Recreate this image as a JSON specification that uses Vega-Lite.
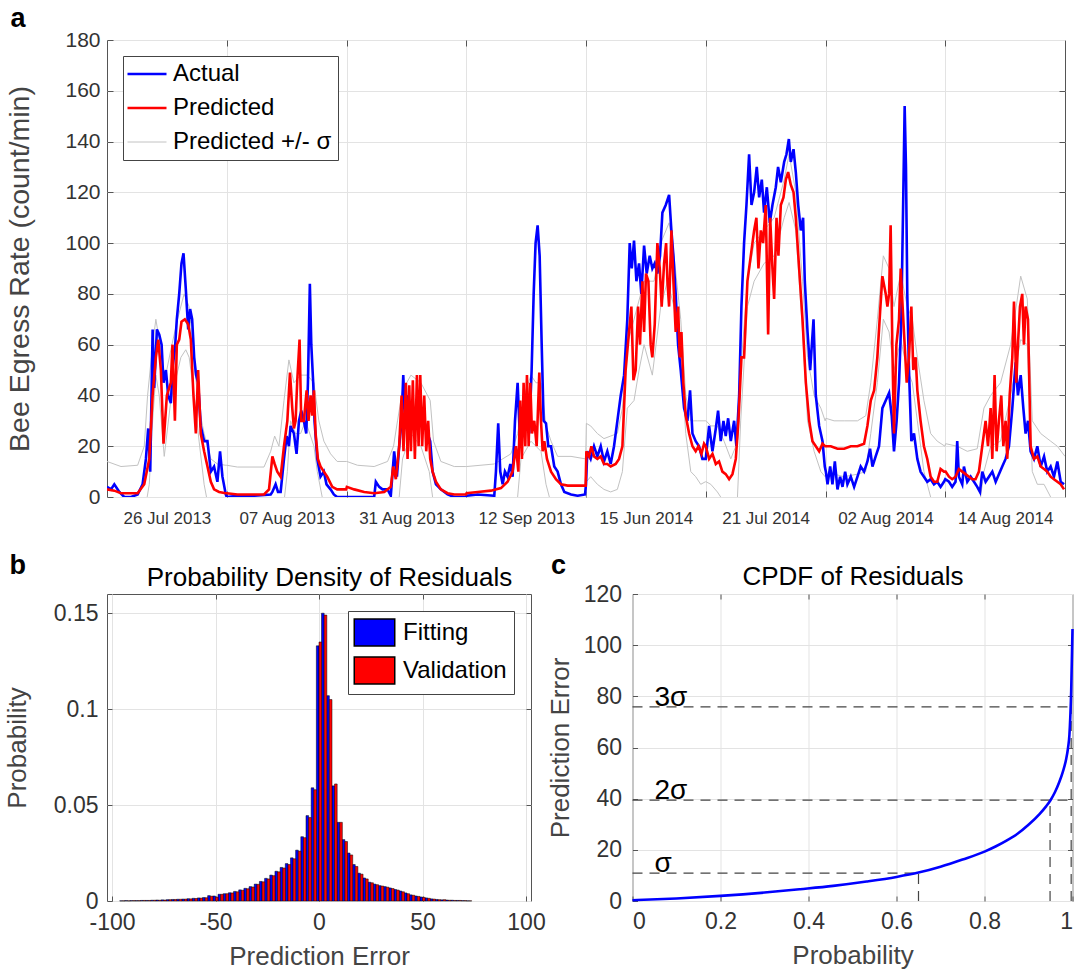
{
"$schema": "https://vega.github.io/schema/vega-lite/v6.json",
"background": "white",
"padding": {"left": 3, "top": 3, "right": 10, "bottom": 4},
"config": {
  "font": "Liberation Sans",
  "view": {"stroke": "#555", "strokeWidth": 1},
  "axis": {"labelFont": "Liberation Sans", "titleFont": "Liberation Sans", "labelColor": "#333", "titleColor": "#444", "gridColor": "#e3e3e3", "tickColor": "#555", "domain": false, "titleFontWeight": "normal"},
  "legend": {"labelFont": "Liberation Sans"}
},
"bounds": "flush",
"spacing": 97,
"resolve": {"scale": {"color": "independent"}, "legend": {"color": "independent"}},
"datasets": {
"actual": [{"x":0,"y":4},{"x":0.033,"y":3},{"x":0.061,"y":5},{"x":0.103,"y":2},{"x":0.144,"y":0},{"x":0.2,"y":0},{"x":0.256,"y":1},{"x":0.297,"y":5},{"x":0.325,"y":15},{"x":0.344,"y":27},{"x":0.361,"y":10},{"x":0.381,"y":66},{"x":0.394,"y":43},{"x":0.417,"y":66},{"x":0.436,"y":64},{"x":0.456,"y":60},{"x":0.472,"y":45},{"x":0.492,"y":50},{"x":0.511,"y":40},{"x":0.533,"y":37},{"x":0.55,"y":52},{"x":0.567,"y":58},{"x":0.583,"y":70},{"x":0.603,"y":80},{"x":0.622,"y":92},{"x":0.639,"y":96},{"x":0.658,"y":82},{"x":0.678,"y":66},{"x":0.694,"y":74},{"x":0.711,"y":70},{"x":0.728,"y":55},{"x":0.744,"y":48},{"x":0.761,"y":45},{"x":0.783,"y":28},{"x":0.811,"y":22},{"x":0.839,"y":22},{"x":0.867,"y":10},{"x":0.894,"y":12},{"x":0.922,"y":6},{"x":0.944,"y":18},{"x":0.964,"y":8},{"x":0.992,"y":1},
{"x":1.0,"y":0},{"x":1.089,"y":0.5},{"x":1.228,"y":0.5},{"x":1.367,"y":1},{"x":1.381,"y":2},{"x":1.408,"y":5},{"x":1.428,"y":2},{"x":1.45,"y":2},{"x":1.478,"y":15},{"x":1.5,"y":24},{"x":1.519,"y":20},{"x":1.533,"y":28},{"x":1.561,"y":25},{"x":1.583,"y":17},{"x":1.603,"y":30},{"x":1.622,"y":34},{"x":1.644,"y":30},{"x":1.664,"y":25},{"x":1.678,"y":45},{"x":1.694,"y":84},{"x":1.706,"y":60},{"x":1.722,"y":45},{"x":1.733,"y":30},{"x":1.756,"y":15},{"x":1.783,"y":8},{"x":1.811,"y":10},{"x":1.833,"y":5},{"x":1.867,"y":3},{"x":1.894,"y":1},{"x":1.922,"y":0},{"x":1.997,"y":0},
{"x":2.003,"y":0},{"x":2.12,"y":0},{"x":2.231,"y":0},{"x":2.245,"y":6},{"x":2.273,"y":4},{"x":2.301,"y":3},{"x":2.343,"y":3},{"x":2.37,"y":0.5},{"x":2.398,"y":18},{"x":2.421,"y":8},{"x":2.44,"y":20},{"x":2.46,"y":30},{"x":2.474,"y":48},{"x":2.49,"y":30},{"x":2.51,"y":40},{"x":2.538,"y":35},{"x":2.565,"y":30},{"x":2.593,"y":33},{"x":2.621,"y":35},{"x":2.649,"y":30},{"x":2.677,"y":25},{"x":2.699,"y":22},{"x":2.719,"y":10},{"x":2.747,"y":5},{"x":2.788,"y":3},{"x":2.844,"y":1},{"x":2.9,"y":0},{"x":2.997,"y":0},
{"x":3.003,"y":0.5},{"x":3.095,"y":1},{"x":3.234,"y":0.5},{"x":3.248,"y":10},{"x":3.267,"y":29},{"x":3.284,"y":10},{"x":3.304,"y":5},{"x":3.323,"y":10},{"x":3.345,"y":8},{"x":3.368,"y":13},{"x":3.387,"y":8},{"x":3.407,"y":30},{"x":3.429,"y":45},{"x":3.451,"y":20},{"x":3.471,"y":25},{"x":3.499,"y":30},{"x":3.526,"y":25},{"x":3.546,"y":50},{"x":3.563,"y":80},{"x":3.579,"y":100},{"x":3.596,"y":107},{"x":3.613,"y":95},{"x":3.63,"y":60},{"x":3.646,"y":30},{"x":3.666,"y":29},{"x":3.685,"y":20},{"x":3.708,"y":20},{"x":3.735,"y":12},{"x":3.763,"y":10},{"x":3.791,"y":5},{"x":3.819,"y":2},{"x":3.875,"y":1},{"x":3.93,"y":0.5},{"x":3.992,"y":1},
{"x":4.0,"y":5},{"x":4.011,"y":18},{"x":4.039,"y":15},{"x":4.067,"y":20},{"x":4.095,"y":16},{"x":4.123,"y":20},{"x":4.15,"y":14},{"x":4.178,"y":18},{"x":4.206,"y":13},{"x":4.234,"y":20},{"x":4.262,"y":30},{"x":4.29,"y":40},{"x":4.318,"y":48},{"x":4.345,"y":70},{"x":4.365,"y":100},{"x":4.382,"y":90},{"x":4.401,"y":101},{"x":4.421,"y":85},{"x":4.443,"y":92},{"x":4.462,"y":80},{"x":4.485,"y":99},{"x":4.507,"y":88},{"x":4.532,"y":95},{"x":4.554,"y":90},{"x":4.574,"y":92},{"x":4.596,"y":88},{"x":4.618,"y":95},{"x":4.638,"y":112},{"x":4.666,"y":115},{"x":4.694,"y":119},{"x":4.713,"y":105},{"x":4.73,"y":95},{"x":4.749,"y":80},{"x":4.769,"y":60},{"x":4.791,"y":50},{"x":4.819,"y":35},{"x":4.847,"y":30},{"x":4.869,"y":42},{"x":4.889,"y":25},{"x":4.916,"y":22},{"x":4.944,"y":20},{"x":4.972,"y":15},
{"x":5.0,"y":15},{"x":5.028,"y":28},{"x":5.056,"y":18},{"x":5.084,"y":27},{"x":5.103,"y":34},{"x":5.125,"y":22},{"x":5.148,"y":30},{"x":5.167,"y":24},{"x":5.187,"y":31},{"x":5.209,"y":22},{"x":5.237,"y":30},{"x":5.256,"y":20},{"x":5.279,"y":40},{"x":5.298,"y":75},{"x":5.32,"y":100},{"x":5.34,"y":115},{"x":5.362,"y":135},{"x":5.382,"y":115},{"x":5.404,"y":120},{"x":5.426,"y":130},{"x":5.446,"y":118},{"x":5.468,"y":125},{"x":5.487,"y":112},{"x":5.51,"y":122},{"x":5.535,"y":108},{"x":5.557,"y":115},{"x":5.585,"y":122},{"x":5.604,"y":130},{"x":5.627,"y":124},{"x":5.655,"y":132},{"x":5.674,"y":135},{"x":5.694,"y":141},{"x":5.71,"y":132},{"x":5.733,"y":137},{"x":5.752,"y":128},{"x":5.772,"y":115},{"x":5.794,"y":105},{"x":5.813,"y":110},{"x":5.827,"y":85},{"x":5.85,"y":65},{"x":5.872,"y":50},{"x":5.9,"y":70},{"x":5.919,"y":40},{"x":5.947,"y":28},{"x":5.975,"y":22},{"x":5.994,"y":12},
{"x":6.003,"y":10},{"x":6.017,"y":5},{"x":6.039,"y":12},{"x":6.058,"y":5},{"x":6.078,"y":14},{"x":6.1,"y":3},{"x":6.122,"y":8},{"x":6.142,"y":4},{"x":6.164,"y":10},{"x":6.183,"y":5},{"x":6.211,"y":8},{"x":6.239,"y":4},{"x":6.267,"y":8},{"x":6.294,"y":12},{"x":6.322,"y":10},{"x":6.35,"y":14},{"x":6.372,"y":19},{"x":6.392,"y":12},{"x":6.419,"y":16},{"x":6.447,"y":20},{"x":6.475,"y":35},{"x":6.503,"y":38},{"x":6.531,"y":41},{"x":6.553,"y":32},{"x":6.572,"y":18},{"x":6.594,"y":30},{"x":6.614,"y":45},{"x":6.633,"y":70},{"x":6.65,"y":120},{"x":6.661,"y":154},{"x":6.672,"y":130},{"x":6.683,"y":80},{"x":6.697,"y":50},{"x":6.717,"y":22},{"x":6.739,"y":25},{"x":6.767,"y":15},{"x":6.794,"y":10},{"x":6.822,"y":8},{"x":6.85,"y":6},{"x":6.878,"y":7},{"x":6.906,"y":5},{"x":6.933,"y":6},{"x":6.961,"y":4},{"x":6.989,"y":6},
{"x":7.0,"y":7},{"x":7.031,"y":6},{"x":7.058,"y":4},{"x":7.086,"y":6},{"x":7.1,"y":22},{"x":7.114,"y":8},{"x":7.142,"y":5},{"x":7.156,"y":12},{"x":7.184,"y":6},{"x":7.212,"y":8},{"x":7.24,"y":6},{"x":7.267,"y":4},{"x":7.29,"y":2},{"x":7.309,"y":10},{"x":7.337,"y":6},{"x":7.365,"y":8},{"x":7.393,"y":10},{"x":7.421,"y":6},{"x":7.448,"y":9},{"x":7.476,"y":12},{"x":7.504,"y":15},{"x":7.532,"y":20},{"x":7.56,"y":35},{"x":7.588,"y":53},{"x":7.607,"y":40},{"x":7.63,"y":48},{"x":7.652,"y":35},{"x":7.671,"y":25},{"x":7.691,"y":30},{"x":7.713,"y":18},{"x":7.741,"y":15},{"x":7.769,"y":20},{"x":7.797,"y":12},{"x":7.825,"y":16},{"x":7.852,"y":10},{"x":7.88,"y":12},{"x":7.908,"y":8},{"x":7.936,"y":14},{"x":7.964,"y":6},{"x":7.992,"y":5}],
"pred": [{"x":0,"y":3},{"x":0.061,"y":2.5},{"x":0.117,"y":1.5},{"x":0.256,"y":1.5},{"x":0.311,"y":5},{"x":0.353,"y":15},{"x":0.381,"y":40},{"x":0.408,"y":55},{"x":0.428,"y":62},{"x":0.45,"y":50},{"x":0.472,"y":21},{"x":0.5,"y":40},{"x":0.533,"y":45},{"x":0.547,"y":60},{"x":0.567,"y":30},{"x":0.583,"y":60},{"x":0.603,"y":62},{"x":0.622,"y":69},{"x":0.65,"y":70},{"x":0.678,"y":68},{"x":0.7,"y":62},{"x":0.722,"y":40},{"x":0.742,"y":25},{"x":0.761,"y":50},{"x":0.783,"y":25},{"x":0.811,"y":18},{"x":0.839,"y":12},{"x":0.867,"y":6},{"x":0.894,"y":3},{"x":0.936,"y":2},{"x":0.992,"y":1.5},
{"x":1.0,"y":1.5},{"x":1.089,"y":1},{"x":1.311,"y":1},{"x":1.353,"y":3},{"x":1.381,"y":16},{"x":1.4,"y":13},{"x":1.422,"y":10},{"x":1.45,"y":8},{"x":1.478,"y":20},{"x":1.506,"y":30},{"x":1.528,"y":49},{"x":1.547,"y":35},{"x":1.561,"y":27},{"x":1.575,"y":30},{"x":1.589,"y":46},{"x":1.608,"y":62},{"x":1.622,"y":30},{"x":1.644,"y":30},{"x":1.667,"y":42},{"x":1.683,"y":30},{"x":1.7,"y":40},{"x":1.714,"y":32},{"x":1.728,"y":42},{"x":1.742,"y":25},{"x":1.761,"y":15},{"x":1.783,"y":12},{"x":1.811,"y":10},{"x":1.839,"y":8},{"x":1.881,"y":4},{"x":1.922,"y":3},{"x":1.997,"y":3},
{"x":2.003,"y":4},{"x":2.064,"y":3},{"x":2.148,"y":2},{"x":2.231,"y":1.5},{"x":2.315,"y":2},{"x":2.37,"y":4},{"x":2.39,"y":12},{"x":2.412,"y":7},{"x":2.44,"y":20},{"x":2.46,"y":40},{"x":2.476,"y":18},{"x":2.496,"y":45},{"x":2.51,"y":15},{"x":2.524,"y":44},{"x":2.538,"y":18},{"x":2.554,"y":46},{"x":2.571,"y":15},{"x":2.588,"y":48},{"x":2.602,"y":20},{"x":2.616,"y":48},{"x":2.632,"y":20},{"x":2.649,"y":40},{"x":2.666,"y":18},{"x":2.682,"y":30},{"x":2.699,"y":15},{"x":2.719,"y":10},{"x":2.747,"y":6},{"x":2.788,"y":3},{"x":2.844,"y":1.5},{"x":2.9,"y":1},{"x":2.997,"y":1},
{"x":3.003,"y":1.5},{"x":3.095,"y":2},{"x":3.206,"y":2.5},{"x":3.29,"y":3.5},{"x":3.345,"y":6},{"x":3.387,"y":10},{"x":3.415,"y":20},{"x":3.435,"y":10},{"x":3.451,"y":38},{"x":3.465,"y":15},{"x":3.479,"y":45},{"x":3.493,"y":20},{"x":3.507,"y":48},{"x":3.521,"y":20},{"x":3.535,"y":45},{"x":3.549,"y":25},{"x":3.568,"y":30},{"x":3.588,"y":20},{"x":3.61,"y":49},{"x":3.624,"y":30},{"x":3.638,"y":18},{"x":3.652,"y":22},{"x":3.674,"y":15},{"x":3.708,"y":10},{"x":3.749,"y":7},{"x":3.791,"y":5},{"x":3.847,"y":4.5},{"x":3.93,"y":4.5},{"x":3.997,"y":4.5},
{"x":4.003,"y":18},{"x":4.025,"y":16},{"x":4.045,"y":20},{"x":4.067,"y":16},{"x":4.095,"y":15},{"x":4.123,"y":16},{"x":4.15,"y":13},{"x":4.178,"y":13},{"x":4.206,"y":12},{"x":4.248,"y":13},{"x":4.276,"y":15},{"x":4.304,"y":20},{"x":4.331,"y":50},{"x":4.359,"y":65},{"x":4.379,"y":75},{"x":4.396,"y":46},{"x":4.415,"y":50},{"x":4.435,"y":75},{"x":4.451,"y":60},{"x":4.471,"y":85},{"x":4.485,"y":65},{"x":4.501,"y":88},{"x":4.521,"y":85},{"x":4.54,"y":60},{"x":4.554,"y":55},{"x":4.574,"y":68},{"x":4.596,"y":100},{"x":4.616,"y":90},{"x":4.632,"y":75},{"x":4.652,"y":92},{"x":4.669,"y":100},{"x":4.68,"y":85},{"x":4.694,"y":75},{"x":4.713,"y":105},{"x":4.73,"y":85},{"x":4.749,"y":65},{"x":4.769,"y":75},{"x":4.783,"y":55},{"x":4.797,"y":65},{"x":4.813,"y":45},{"x":4.833,"y":32},{"x":4.861,"y":25},{"x":4.889,"y":20},{"x":4.916,"y":18},{"x":4.939,"y":20},{"x":4.964,"y":17},{"x":4.986,"y":21},
{"x":5.0,"y":20},{"x":5.028,"y":15},{"x":5.056,"y":17},{"x":5.084,"y":13},{"x":5.111,"y":14},{"x":5.139,"y":10},{"x":5.167,"y":9},{"x":5.195,"y":7},{"x":5.223,"y":9},{"x":5.251,"y":15},{"x":5.273,"y":30},{"x":5.298,"y":55},{"x":5.32,"y":55},{"x":5.348,"y":85},{"x":5.376,"y":95},{"x":5.404,"y":105},{"x":5.423,"y":110},{"x":5.44,"y":90},{"x":5.46,"y":105},{"x":5.479,"y":100},{"x":5.501,"y":115},{"x":5.521,"y":64},{"x":5.538,"y":110},{"x":5.557,"y":90},{"x":5.571,"y":78},{"x":5.591,"y":110},{"x":5.607,"y":95},{"x":5.627,"y":115},{"x":5.649,"y":118},{"x":5.669,"y":125},{"x":5.688,"y":128},{"x":5.71,"y":123},{"x":5.733,"y":120},{"x":5.752,"y":110},{"x":5.78,"y":90},{"x":5.808,"y":70},{"x":5.836,"y":45},{"x":5.864,"y":30},{"x":5.891,"y":22},{"x":5.919,"y":20},{"x":5.947,"y":18},{"x":5.975,"y":21},{"x":5.997,"y":20},
{"x":6.003,"y":20},{"x":6.044,"y":20},{"x":6.1,"y":19},{"x":6.156,"y":19},{"x":6.211,"y":20},{"x":6.267,"y":20},{"x":6.322,"y":21},{"x":6.35,"y":28},{"x":6.378,"y":38},{"x":6.406,"y":42},{"x":6.433,"y":55},{"x":6.456,"y":73},{"x":6.475,"y":87},{"x":6.503,"y":80},{"x":6.517,"y":75},{"x":6.531,"y":80},{"x":6.544,"y":107},{"x":6.558,"y":60},{"x":6.572,"y":25},{"x":6.592,"y":60},{"x":6.614,"y":70},{"x":6.628,"y":90},{"x":6.644,"y":75},{"x":6.661,"y":60},{"x":6.678,"y":45},{"x":6.697,"y":55},{"x":6.717,"y":75},{"x":6.733,"y":50},{"x":6.753,"y":55},{"x":6.767,"y":42},{"x":6.794,"y":30},{"x":6.822,"y":20},{"x":6.85,"y":15},{"x":6.878,"y":8},{"x":6.906,"y":6},{"x":6.933,"y":6},{"x":6.961,"y":11},{"x":6.989,"y":10},
{"x":7.003,"y":10},{"x":7.031,"y":8},{"x":7.058,"y":7},{"x":7.086,"y":8},{"x":7.114,"y":11},{"x":7.142,"y":10},{"x":7.17,"y":9},{"x":7.198,"y":8},{"x":7.226,"y":7},{"x":7.253,"y":7},{"x":7.281,"y":10},{"x":7.309,"y":20},{"x":7.337,"y":30},{"x":7.357,"y":20},{"x":7.379,"y":35},{"x":7.393,"y":15},{"x":7.412,"y":48},{"x":7.429,"y":18},{"x":7.448,"y":30},{"x":7.468,"y":40},{"x":7.485,"y":20},{"x":7.504,"y":30},{"x":7.518,"y":15},{"x":7.538,"y":40},{"x":7.56,"y":55},{"x":7.574,"y":77},{"x":7.593,"y":45},{"x":7.607,"y":60},{"x":7.624,"y":75},{"x":7.643,"y":80},{"x":7.657,"y":60},{"x":7.671,"y":75},{"x":7.691,"y":70},{"x":7.713,"y":20},{"x":7.741,"y":15},{"x":7.769,"y":16},{"x":7.797,"y":12},{"x":7.825,"y":11},{"x":7.852,"y":10},{"x":7.88,"y":8},{"x":7.908,"y":7},{"x":7.936,"y":6},{"x":7.964,"y":5},{"x":7.992,"y":3}],
"upper": [{"x":0,"y":14},{"x":0.117,"y":12},{"x":0.256,"y":12.5},{"x":0.311,"y":20},{"x":0.339,"y":40},{"x":0.381,"y":60},{"x":0.408,"y":70},{"x":0.436,"y":62},{"x":0.478,"y":45},{"x":0.533,"y":58},{"x":0.589,"y":70},{"x":0.644,"y":80},{"x":0.686,"y":75},{"x":0.728,"y":52},{"x":0.769,"y":35},{"x":0.811,"y":25},{"x":0.867,"y":15},{"x":0.922,"y":13},{"x":0.992,"y":12.5},
{"x":1.0,"y":12.5},{"x":1.089,"y":11.8},{"x":1.311,"y":11.8},{"x":1.367,"y":18},{"x":1.4,"y":24},{"x":1.436,"y":20},{"x":1.478,"y":38},{"x":1.519,"y":54},{"x":1.561,"y":45},{"x":1.617,"y":48},{"x":1.672,"y":48},{"x":1.728,"y":45},{"x":1.769,"y":30},{"x":1.811,"y":22},{"x":1.867,"y":17},{"x":1.922,"y":14},{"x":1.997,"y":14},
{"x":2.003,"y":14},{"x":2.092,"y":12.5},{"x":2.231,"y":12},{"x":2.343,"y":14},{"x":2.393,"y":20},{"x":2.426,"y":30},{"x":2.468,"y":42},{"x":2.538,"y":48},{"x":2.621,"y":45},{"x":2.699,"y":38},{"x":2.727,"y":22},{"x":2.788,"y":14},{"x":2.9,"y":12},{"x":2.997,"y":12},
{"x":3.003,"y":12},{"x":3.234,"y":13},{"x":3.373,"y":17},{"x":3.429,"y":25},{"x":3.485,"y":40},{"x":3.54,"y":48},{"x":3.582,"y":45},{"x":3.624,"y":45},{"x":3.666,"y":28},{"x":3.708,"y":22},{"x":3.763,"y":16},{"x":3.875,"y":16},{"x":3.997,"y":15},
{"x":4.003,"y":29},{"x":4.039,"y":28},{"x":4.095,"y":25},{"x":4.15,"y":23},{"x":4.206,"y":24},{"x":4.262,"y":25},{"x":4.304,"y":35},{"x":4.345,"y":60},{"x":4.401,"y":70},{"x":4.485,"y":85},{"x":4.568,"y":85},{"x":4.624,"y":100},{"x":4.694,"y":108},{"x":4.735,"y":95},{"x":4.791,"y":70},{"x":4.833,"y":40},{"x":4.875,"y":30},{"x":4.93,"y":30},{"x":4.997,"y":30},
{"x":5.003,"y":30},{"x":5.042,"y":28},{"x":5.097,"y":28},{"x":5.153,"y":22},{"x":5.209,"y":15},{"x":5.251,"y":20},{"x":5.292,"y":50},{"x":5.348,"y":85},{"x":5.404,"y":100},{"x":5.487,"y":105},{"x":5.571,"y":110},{"x":5.655,"y":125},{"x":5.696,"y":135},{"x":5.752,"y":120},{"x":5.808,"y":85},{"x":5.85,"y":55},{"x":5.905,"y":40},{"x":5.961,"y":35},{"x":5.997,"y":30},
{"x":6.003,"y":31},{"x":6.072,"y":30},{"x":6.156,"y":30},{"x":6.267,"y":30},{"x":6.336,"y":32},{"x":6.378,"y":45},{"x":6.433,"y":70},{"x":6.483,"y":95},{"x":6.531,"y":90},{"x":6.572,"y":75},{"x":6.628,"y":88},{"x":6.683,"y":75},{"x":6.725,"y":70},{"x":6.767,"y":55},{"x":6.822,"y":38},{"x":6.878,"y":25},{"x":6.933,"y":22},{"x":6.997,"y":20},
{"x":7.003,"y":21},{"x":7.1,"y":20},{"x":7.184,"y":18},{"x":7.267,"y":19},{"x":7.323,"y":35},{"x":7.379,"y":40},{"x":7.462,"y":45},{"x":7.546,"y":60},{"x":7.63,"y":87},{"x":7.685,"y":78},{"x":7.727,"y":30},{"x":7.797,"y":25},{"x":7.88,"y":22},{"x":7.936,"y":20},{"x":8.0,"y":16}],
"lower": [{"x":0,"y":-8},{"x":0.283,"y":-8},{"x":0.325,"y":-3},{"x":0.353,"y":5},{"x":0.381,"y":30},{"x":0.408,"y":48},{"x":0.436,"y":40},{"x":0.478,"y":16},{"x":0.533,"y":38},{"x":0.617,"y":55},{"x":0.658,"y":58},{"x":0.686,"y":55},{"x":0.728,"y":40},{"x":0.769,"y":22},{"x":0.811,"y":5},{"x":0.839,"y":-2},{"x":0.992,"y":-10},
{"x":1.0,"y":-10},{"x":1.45,"y":-8},{"x":1.478,"y":-2},{"x":1.506,"y":10},{"x":1.533,"y":30},{"x":1.575,"y":25},{"x":1.617,"y":25},{"x":1.658,"y":30},{"x":1.728,"y":20},{"x":1.756,"y":10},{"x":1.797,"y":0},{"x":1.839,"y":-8},{"x":1.997,"y":-10},
{"x":2.003,"y":-10},{"x":2.398,"y":-8},{"x":2.44,"y":0},{"x":2.468,"y":15},{"x":2.538,"y":25},{"x":2.621,"y":20},{"x":2.691,"y":10},{"x":2.719,"y":0},{"x":2.76,"y":-8},{"x":2.997,"y":-10},
{"x":3.003,"y":-10},{"x":3.401,"y":-5},{"x":3.429,"y":0},{"x":3.457,"y":15},{"x":3.54,"y":22},{"x":3.582,"y":20},{"x":3.624,"y":18},{"x":3.666,"y":5},{"x":3.694,"y":0},{"x":3.735,"y":-8},{"x":3.997,"y":-10},
{"x":4.003,"y":6},{"x":4.039,"y":8},{"x":4.095,"y":5},{"x":4.15,"y":3},{"x":4.206,"y":2},{"x":4.262,"y":3},{"x":4.304,"y":10},{"x":4.345,"y":35},{"x":4.401,"y":38},{"x":4.443,"y":50},{"x":4.485,"y":60},{"x":4.554,"y":48},{"x":4.624,"y":75},{"x":4.68,"y":85},{"x":4.735,"y":75},{"x":4.791,"y":55},{"x":4.833,"y":25},{"x":4.875,"y":10},{"x":4.916,"y":8},{"x":4.958,"y":5},{"x":4.997,"y":6},
{"x":5.003,"y":6},{"x":5.042,"y":5},{"x":5.097,"y":2},{"x":5.153,"y":-2},{"x":5.209,"y":-5},{"x":5.265,"y":0},{"x":5.292,"y":30},{"x":5.348,"y":75},{"x":5.404,"y":85},{"x":5.487,"y":92},{"x":5.571,"y":95},{"x":5.655,"y":110},{"x":5.696,"y":116},{"x":5.752,"y":105},{"x":5.808,"y":65},{"x":5.85,"y":30},{"x":5.905,"y":18},{"x":5.961,"y":10},{"x":5.997,"y":8},
{"x":6.003,"y":9},{"x":6.072,"y":9},{"x":6.156,"y":8},{"x":6.267,"y":9},{"x":6.336,"y":10},{"x":6.378,"y":25},{"x":6.433,"y":45},{"x":6.483,"y":70},{"x":6.531,"y":65},{"x":6.572,"y":50},{"x":6.628,"y":62},{"x":6.683,"y":50},{"x":6.725,"y":45},{"x":6.767,"y":30},{"x":6.822,"y":10},{"x":6.878,"y":0},{"x":6.933,"y":-5},{"x":6.997,"y":-5},
{"x":7.003,"y":-2},{"x":7.184,"y":-3},{"x":7.295,"y":0},{"x":7.323,"y":10},{"x":7.379,"y":20},{"x":7.462,"y":22},{"x":7.546,"y":40},{"x":7.63,"y":62},{"x":7.685,"y":60},{"x":7.727,"y":10},{"x":7.769,"y":5},{"x":7.825,"y":5},{"x":7.88,"y":0},{"x":7.936,"y":-5},{"x":8.0,"y":-8}],
"hist": [{"c":-95,"f":0.0001,"v":0.0001},{"c":-92.5,"f":0.0002,"v":0.0001},{"c":-90,"f":0.0002,"v":0.0002},{"c":-87.5,"f":0.0002,"v":0.0002},{"c":-85,"f":0.0003,"v":0.0003},{"c":-82.5,"f":0.0003,"v":0.0003},{"c":-80,"f":0.0004,"v":0.0004},{"c":-77.5,"f":0.0005,"v":0.0004},{"c":-75,"f":0.0006,"v":0.0005},{"c":-72.5,"f":0.0007,"v":0.0007},{"c":-70,"f":0.0008,"v":0.0008},{"c":-67.5,"f":0.0009,"v":0.0009},{"c":-65,"f":0.001,"v":0.001},{"c":-62.5,"f":0.0012,"v":0.0011},{"c":-60,"f":0.0014,"v":0.0013},{"c":-57.5,"f":0.0016,"v":0.0015},{"c":-55,"f":0.0018,"v":0.0017},{"c":-52.5,"f":0.0028,"v":0.0025},{"c":-50,"f":0.0026,"v":0.002},{"c":-47.5,"f":0.0035,"v":0.0035},{"c":-45,"f":0.0038,"v":0.0038},{"c":-42.5,"f":0.0043,"v":0.0042},{"c":-40,"f":0.005,"v":0.0048},{"c":-37.5,"f":0.0058,"v":0.0056},{"c":-35,"f":0.0066,"v":0.0064},{"c":-32.5,"f":0.0075,"v":0.0073},{"c":-30,"f":0.0088,"v":0.0087},{"c":-27.5,"f":0.0102,"v":0.01},{"c":-25,"f":0.0118,"v":0.0115},{"c":-22.5,"f":0.0135,"v":0.0132},{"c":-20,"f":0.0155,"v":0.0152},{"c":-17.5,"f":0.0175,"v":0.0172},{"c":-15,"f":0.0195,"v":0.019},{"c":-12.5,"f":0.0225,"v":0.022},{"c":-10,"f":0.0265,"v":0.026},{"c":-7.5,"f":0.0335,"v":0.033},{"c":-5,"f":0.0445,"v":0.0435},{"c":-2.5,"f":0.059,"v":0.058},{"c":0,"f":0.133,"v":0.135},{"c":2.5,"f":0.15,"v":0.149},{"c":5,"f":0.107,"v":0.105},{"c":7.5,"f":0.06,"v":0.061},{"c":10,"f":0.041,"v":0.041},{"c":12.5,"f":0.032,"v":0.031},{"c":15,"f":0.025,"v":0.024},{"c":17.5,"f":0.019,"v":0.018},{"c":20,"f":0.0145,"v":0.014},{"c":22.5,"f":0.012,"v":0.0115},{"c":25,"f":0.0098,"v":0.0095},{"c":27.5,"f":0.0088,"v":0.0085},{"c":30,"f":0.008,"v":0.0078},{"c":32.5,"f":0.0075,"v":0.0072},{"c":35,"f":0.0068,"v":0.0065},{"c":37.5,"f":0.006,"v":0.0057},{"c":40,"f":0.0052,"v":0.0048},{"c":42.5,"f":0.0042,"v":0.0038},{"c":45,"f":0.0032,"v":0.003},{"c":47.5,"f":0.0026,"v":0.0024},{"c":50,"f":0.0021,"v":0.0019},{"c":52.5,"f":0.0016,"v":0.0014},{"c":55,"f":0.0011,"v":0.001},{"c":57.5,"f":0.0008,"v":0.0007},{"c":60,"f":0.0006,"v":0.0007},{"c":62.5,"f":0.0005,"v":0.0004},{"c":65,"f":0.0004,"v":0.0003},{"c":67.5,"f":0.0003,"v":0.0003},{"c":70,"f":0.0002,"v":0.0002},{"c":72.5,"f":0.0001,"v":0.0001}],
"cdf": [{"p":0,"e":0.3},{"p":0.1,"e":1.0},{"p":0.2,"e":2.0},{"p":0.3,"e":3.3},{"p":0.381,"e":4.6},{"p":0.456,"e":5.9},{"p":0.532,"e":7.6},{"p":0.6,"e":9.4},{"p":0.65,"e":11.1},{"p":0.7,"e":13.4},{"p":0.75,"e":16.2},{"p":0.8,"e":19.3},{"p":0.825,"e":21.3},{"p":0.85,"e":23.6},{"p":0.875,"e":26.3},{"p":0.9,"e":29.8},{"p":0.925,"e":34},{"p":0.94,"e":37},{"p":0.95,"e":39.4},{"p":0.96,"e":42.5},{"p":0.97,"e":46.5},{"p":0.978,"e":50.5},{"p":0.985,"e":55},{"p":0.99,"e":60},{"p":0.993,"e":65},{"p":0.995,"e":72},{"p":0.997,"e":82},{"p":0.998,"e":90},{"p":0.999,"e":98},{"p":1.0,"e":106.3}],
"sig": [{"x1":0,"x2":0.65,"y1":10.9,"y2":10.9},{"x1":0.65,"x2":0.65,"y1":0,"y2":10.9},{"x1":0,"x2":1,"y1":39.4,"y2":39.4},{"x1":0.949,"x2":0.949,"y1":0,"y2":39.4},{"x1":0,"x2":1,"y1":75.9,"y2":75.9},{"x1":0.997,"x2":0.997,"y1":0,"y2":75.9}],
"siglab": [{"x":0.05,"y":10.9,"t":"σ"},{"x":0.05,"y":39.4,"t":"2σ"},{"x":0.05,"y":75.9,"t":"3σ"}]
},
"vconcat": [
{
  "width": 958, "height": 457,
  "resolve": {"axis": {"x": "independent", "y": "independent"}},
  "layer": [
    {"data": {"name": "upper"}, "mark": {"type": "line", "strokeWidth": 1, "clip": true},
     "encoding": {
       "x": {"field": "x", "type": "quantitative", "scale": {"domain": [0, 8], "nice": false, "zero": false},
             "axis": {"orient": "bottom", "values": [0.5,1,1.5,2,2.5,3,3.5,4,4.5,5,5.5,6,6.5,7,7.5],
                      "labelExpr": "datum.value % 1 == 0 ? '' : ['26 Jul 2013','07 Aug 2013','31 Aug 2013','12 Sep 2013','15 Jun 2014','21 Jul 2014','02 Aug 2014','14 Aug 2014'][floor(datum.value)]",
                      "labelFontSize": 17, "labelPadding": 19, "labelOverlap": false, "labelBound": false, "labelFlush": false,
                      "tickSize": -6, "tickOpacity": {"condition": {"test": "datum.value % 1 == 0", "value": 1}, "value": 0},
                      "grid": true, "gridOpacity": {"condition": {"test": "datum.value % 1 == 0", "value": 1}, "value": 0},
                      "title": null}},
       "y": {"field": "y", "type": "quantitative", "scale": {"domain": [0, 180], "nice": false},
             "axis": {"values": [0,20,40,60,80,100,120,140,160,180], "labelFontSize": 21, "labelPadding": 13, "tickSize": -6, "grid": true,
                      "title": "Bee Egress Rate (count/min)", "titleFontSize": 28.5, "titlePadding": 30}},
       "color": {"datum": "Predicted +/- σ",
                 "scale": {"domain": ["Actual", "Predicted", "Predicted +/- σ"], "range": ["#0000ff", "#ff0000", "#c2c2c2"]},
                 "legend": {"orient": "top-left", "offset": 16, "title": null, "symbolType": "stroke", "symbolSize": 1521, "symbolStrokeWidth": 2.6,
                            "symbolOffset": 6, "labelFontSize": 24, "labelColor": "#000", "labelOffset": 14, "rowPadding": 10, "padding": 6,
                            "strokeColor": "#444", "fillColor": "white", "labelLimit": 400,
                            "encode": {"symbols": {"update": {"strokeWidth": {"signal": "datum.value === 'Predicted +/- σ' ? 1 : 2.6"}}}}}}
     }},
    {"data": {"name": "lower"}, "mark": {"type": "line", "strokeWidth": 1, "clip": true},
     "encoding": {"x": {"field": "x", "type": "quantitative", "axis": null}, "y": {"field": "y", "type": "quantitative", "axis": null}, "color": {"datum": "Predicted +/- σ"}}},
    {"data": {"name": "actual"}, "mark": {"type": "line", "strokeWidth": 2.6, "clip": true},
     "encoding": {"x": {"field": "x", "type": "quantitative", "axis": null}, "y": {"field": "y", "type": "quantitative", "axis": null}, "color": {"datum": "Actual"}}},
    {"data": {"name": "pred"}, "mark": {"type": "line", "strokeWidth": 2.6, "clip": true},
     "encoding": {"x": {"field": "x", "type": "quantitative", "axis": null}, "y": {"field": "y", "type": "quantitative", "axis": null}, "color": {"datum": "Predicted"}}},
    {"data": {"values": [{}]}, "mark": {"type": "point", "opacity": 0},
     "encoding": {
       "x": {"datum": 0, "type": "quantitative", "axis": {"orient": "top", "values": [1,2,3,4,5,6,7], "labels": false, "grid": false, "domain": false, "tickSize": -6,
              "title": "a", "titleX": -97, "titleY": -14, "titleAlign": "left", "titleBaseline": "alphabetic", "titleAngle": 0, "titleFontSize": 27, "titleFontWeight": "bold", "titleColor": "#000"}},
       "y": {"datum": 0, "type": "quantitative", "axis": {"orient": "right", "values": [20,40,60,80,100,120,140,160], "labels": false, "grid": false, "domain": false, "tickSize": -6, "title": null}}
     }}
  ]
},
{
  "hconcat": [
    {
      "width": 424, "height": 307,
      "resolve": {"axis": {"x": "independent", "y": "independent"}},
      "layer": [
        {"data": {"name": "hist"}, "mark": {"type": "bar", "size": 2.65, "xOffset": -1.33, "stroke": "#000", "strokeWidth": 0.5},
         "encoding": {
           "x": {"field": "c", "type": "quantitative", "scale": {"domain": [-100, 100], "nice": false, "zero": false},
                 "axis": {"values": [-100,-50,0,50,100], "labelExpr": "'' + datum.value", "labelFontSize": 23, "labelPadding": 15, "tickSize": -5, "grid": true,
                          "title": "Prediction Error", "titleFontSize": 26, "titlePadding": 9}},
           "y": {"field": "f", "type": "quantitative", "scale": {"domain": [0, 0.16], "nice": false},
                 "axis": {"values": [0,0.05,0.1,0.15], "labelExpr": "'' + datum.value", "labelFontSize": 23, "labelPadding": 14, "tickSize": -5, "grid": true,
                          "title": "Probability", "titleFontSize": 26, "titlePadding": 23}},
           "color": {"datum": "Fitting", "scale": {"domain": ["Fitting", "Validation"], "range": ["#0000ff", "#ff0000"]},
                     "legend": {"orient": "top-right", "offset": 17, "title": null, "symbolType": "M-1.5,-1H1.5V1H-1.5Z", "symbolSize": 729,
                                "symbolOffset": 5, "labelFontSize": 24, "labelColor": "#000", "labelOffset": 14, "rowPadding": 5, "padding": 7,
                                "strokeColor": "#444", "fillColor": "white", "symbolOpacity": 1,
                                "encode": {"symbols": {"update": {"stroke": {"value": "#000"}, "strokeWidth": {"value": 1}}}}}}
         }},
        {"data": {"name": "hist"}, "mark": {"type": "bar", "size": 2.65, "xOffset": 1.33, "stroke": "#000", "strokeWidth": 0.5},
         "encoding": {"x": {"field": "c", "type": "quantitative", "axis": null}, "y": {"field": "v", "type": "quantitative", "axis": null}, "color": {"datum": "Validation"}}},
        {"data": {"values": [{}]}, "mark": {"type": "point", "opacity": 0},
         "encoding": {
           "x": {"datum": 0, "type": "quantitative", "axis": {"orient": "top", "values": [-50,0,50], "labels": false, "grid": false, "domain": false, "tickSize": -5,
                  "title": "Probability Density of Residuals", "titleX": 222, "titleY": -9, "titleAlign": "center", "titleBaseline": "alphabetic", "titleAngle": 0, "titleFontSize": 26, "titleColor": "#000"}},
           "y": {"datum": 0, "type": "quantitative", "axis": {"orient": "right", "values": [0.05,0.1,0.15], "labels": false, "grid": false, "domain": false, "tickSize": -5, "title": null}}
         }},
        {"data": {"values": [{}]}, "mark": {"type": "point", "opacity": 0},
         "encoding": {
           "x": {"datum": 0, "type": "quantitative", "axis": {"orient": "top", "ticks": false, "labels": false, "grid": false, "domain": false,
                  "title": "b", "titleX": -98, "titleY": -21, "titleAlign": "left", "titleBaseline": "alphabetic", "titleAngle": 0, "titleFontSize": 27, "titleFontWeight": "bold", "titleColor": "#000"}}
         }}
      ]
    },
    {
      "width": 440, "height": 307,
      "resolve": {"axis": {"x": "independent", "y": "independent"}},
      "layer": [
        {"data": {"name": "sig"}, "mark": {"type": "rule", "strokeDash": [10, 7], "color": "#444", "strokeWidth": 1.2},
         "encoding": {
           "x": {"field": "x1", "type": "quantitative", "scale": {"domain": [0, 1], "nice": false},
                 "axis": {"values": [0,0.2,0.4,0.6,0.8,1], "labelExpr": "'' + datum.value", "labelFontSize": 23, "labelPadding": 14, "tickSize": -5, "grid": true,
                          "title": "Probability", "titleFontSize": 26, "titlePadding": 9}},
           "x2": {"field": "x2"},
           "y": {"field": "y1", "type": "quantitative", "scale": {"domain": [0, 120], "nice": false},
                 "axis": {"values": [0,20,40,60,80,100,120], "labelFontSize": 23, "labelPadding": 16, "tickSize": -5, "grid": true,
                          "title": "Prediction Error", "titleFontSize": 26, "titlePadding": 10}},
           "y2": {"field": "y2"}
         }},
        {"data": {"name": "cdf"}, "mark": {"type": "line", "color": "#0000ff", "strokeWidth": 2.6, "interpolate": "monotone"},
         "encoding": {"x": {"field": "p", "type": "quantitative", "axis": null}, "y": {"field": "e", "type": "quantitative", "axis": null}}},
        {"data": {"name": "siglab"}, "mark": {"type": "text", "align": "left", "baseline": "alphabetic", "fontSize": 28, "color": "#000", "dy": -1},
         "encoding": {"x": {"field": "x", "type": "quantitative", "axis": null}, "y": {"field": "y", "type": "quantitative", "axis": null}, "text": {"field": "t"}}},
        {"data": {"values": [{}]}, "mark": {"type": "point", "opacity": 0},
         "encoding": {
           "x": {"datum": 0, "type": "quantitative", "axis": {"orient": "top", "values": [0.2,0.4,0.6,0.8], "labels": false, "grid": false, "domain": false, "tickSize": -5,
                  "title": "CPDF of Residuals", "titleX": 220, "titleY": -10, "titleAlign": "center", "titleBaseline": "alphabetic", "titleAngle": 0, "titleFontSize": 26, "titleColor": "#000"}},
           "y": {"datum": 0, "type": "quantitative", "axis": {"orient": "right", "values": [20,40,60,80,100], "labels": false, "grid": false, "domain": false, "tickSize": -5, "title": null}}
         }},
        {"data": {"values": [{}]}, "mark": {"type": "point", "opacity": 0},
         "encoding": {
           "x": {"datum": 0, "type": "quantitative", "axis": {"orient": "top", "ticks": false, "labels": false, "grid": false, "domain": false,
                  "title": "c", "titleX": -82, "titleY": -21, "titleAlign": "left", "titleBaseline": "alphabetic", "titleAngle": 0, "titleFontSize": 27, "titleFontWeight": "bold", "titleColor": "#000"}}
         }}
      ]
    }
  ],
  "spacing": 101.5,
  "bounds": "flush",
  "resolve": {"scale": {"color": "independent"}, "legend": {"color": "independent"}}
}
]
}
